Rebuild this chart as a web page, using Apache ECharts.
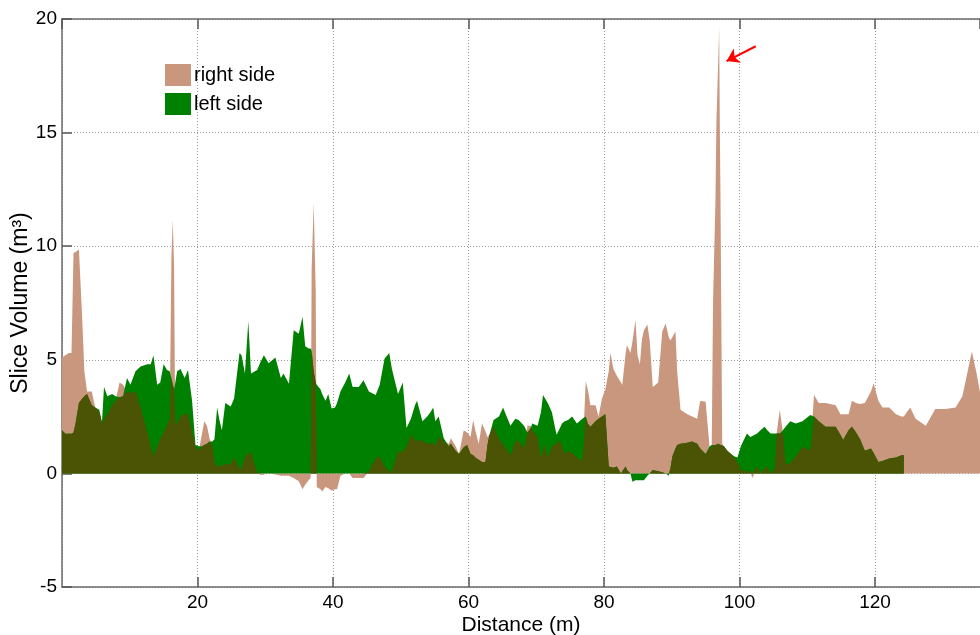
<!DOCTYPE html>
<html>
<head>
<meta charset="utf-8">
<title>Slice volume along distance</title>
<script src="https://cdn.jsdelivr.net/npm/echarts@6/dist/echarts.min.js"></script>
<style>
  html, body { margin: 0; padding: 0; background: #fff; }
  #chart { width: 980px; height: 635px; }
</style>
</head>
<body>
<div id="chart"></div>
<script>
// Distance along the section (m), shared by both sides
const distance = [
  0, 0.5, 1.0, 1.4, 1.7, 2.0, 2.5, 3.0, 3.3, 3.7,
  4.4, 4.9, 5.5, 5.9, 6.2, 6.7, 7.4, 7.9, 8.5, 9.0,
  9.6, 10.1, 10.85, 11.6, 12.6, 13.1, 13.5, 14.05, 14.5, 15.0,
  15.5, 15.9, 16.15, 16.35, 16.55, 16.7, 17.0, 17.5, 17.8, 18.1,
  18.6, 19.2, 19.7, 20.2, 20.7, 21.0, 21.4, 21.8, 22.2, 22.5,
  22.9, 23.2, 23.6, 24.1, 24.9, 25.4, 25.6, 26.2, 26.5, 27.0,
  27.5, 27.9, 28.8, 29.3, 29.8, 30.5, 31.5, 32.3, 32.7, 33.5,
  34.2, 34.95, 35.5, 35.9, 36.4, 36.7, 36.85, 37.15, 37.45, 37.6,
  38.15, 38.4, 38.9, 39.3, 39.8, 40.3, 40.6, 41.1, 41.8, 42.4,
  42.9, 43.8, 44.5, 45.3, 46.3, 46.9, 47.6, 48.3, 48.7, 49.6,
  50.3, 50.85, 51.5, 52.1, 52.4, 53.2, 53.9, 54.4, 54.8, 55.1,
  55.6, 56.35, 57.1, 57.4, 58.1, 58.6, 59.3, 59.8, 60.3, 60.7,
  61.0, 61.5, 62.0, 62.5, 62.8, 63.1, 63.7, 64.5, 65.1, 65.5,
  66.2, 66.9, 67.4, 68.2, 68.7, 69.2, 69.4, 70.2, 70.7, 71.0,
  71.2, 71.7, 72.3, 73.0, 73.5, 73.8, 74.2, 74.7, 75.3, 76.0,
  76.8, 77.3, 77.6, 78.0, 78.75, 79.2, 79.7, 80.2, 80.7, 80.95,
  81.4, 81.9, 82.5, 82.7, 83.2, 83.4, 83.9, 84.2, 84.65, 84.95,
  85.3, 85.6, 85.9, 86.4, 86.75, 87.2, 88.0, 88.6, 89.1, 89.55,
  89.8, 90.1, 90.55, 90.8, 91.3, 92.3, 93.0, 93.75, 94.2, 95.0,
  95.2, 95.6, 95.9, 96.1, 96.45, 96.6, 96.9, 97.0, 97.1, 97.2,
  97.3, 97.45, 97.7, 98.2, 99.2, 99.7, 100.2, 101.1, 101.6, 101.9,
  102.6, 103.1, 103.7, 104.1, 104.6, 105.2, 105.5, 105.95, 106.4, 106.8,
  107.5, 108.3, 109.3, 110.45, 111.0, 111.7, 112.7, 114.2, 114.9, 115.3,
  116.1, 116.6, 117.2, 117.8, 118.5, 119.4, 119.8, 120.5, 121.1, 122.1,
  123.1, 123.9, 124.25, 125.2, 126.0, 127.5, 128.9, 130.4, 131.9, 132.9,
  134.3, 135.0, 135.6
];

// Slice volume on the right side (m^3)
const rightSide = [
  5.1, 5.2, 5.3, 5.3, 9.7, 9.75, 9.85, 6.7, 4.5, 3.6,
  3.6, 2.9, 2.7, 2.2, 2.4, 2.6, 3.0, 3.2, 4.0, 3.9,
  3.6, 3.55, 3.6, 2.9, 1.8, 1.2, 0.75, 1.2, 1.5, 1.8,
  2.1, 2.4, 9.5, 11.15, 9.0, 2.2, 2.2, 2.5, 2.6, 2.6,
  2.6, 1.8, 1.2, 1.0, 1.8, 2.3, 2.1, 1.5, 1.2, 0.5,
  0.3, 0.3, 0.35, 0.4, 0.4, 0.7, 0.6, 0.2, 0.2, 0.7,
  0.9, 0.9, 0.05, -0.07, -0.05, 0.0, -0.05, -0.1, -0.1, -0.1,
  -0.2, -0.35, -0.7, -0.5, -0.3, -0.2, 9.0, 11.9, 8.0, -0.6,
  -0.7, -0.8, -0.6, -0.65, -0.75, -0.7, -0.7, -0.1, 0.0, 0.0,
  -0.2, -0.2, -0.2, 0.1, 0.65, 0.75, 0.3, 0.1, 0.1, 0.95,
  0.95, 1.2, 1.7, 1.45, 1.45, 1.45, 1.3, 1.3, 1.35, 1.2,
  1.6, 1.4, 1.3, 1.55, 1.2, 0.85, 1.9, 1.8, 1.6, 2.35,
  1.9, 1.3, 2.2, 1.85, 1.6, 1.7, 2.05, 1.5, 1.3, 1.1,
  0.8, 1.4, 1.45, 1.1, 2.1, 2.1, 1.9, 1.6, 0.7, 1.0,
  1.3, 0.7, 1.2, 1.3, 1.45, 1.2, 0.85, 1.0, 0.9, 0.7,
  0.55, 4.05, 3.7, 3.0, 3.0, 2.5, 3.3, 3.7, 4.5, 5.3,
  4.6, 4.3, 4.0, 3.9, 5.3, 5.65, 5.3, 5.8, 6.75, 5.2,
  4.8, 5.9, 6.3, 6.55, 5.85, 3.8, 4.0, 6.25, 6.6, 6.0,
  5.85, 6.0, 6.25, 4.5, 2.8, 2.6, 2.5, 2.4, 3.2, 3.15,
  3.1, 1.1, 1.15, 7.6, 12.0, 15.5, 18.5, 19.6, 15.0, 12.0,
  7.6, 1.3, 1.2, 1.0, 0.7, 0.5, 0.15, 0.1, 0.1, -0.2,
  0.3, 0.0, 0.2, 0.3, 0.0, 0.2, 1.8, 2.8, 1.8, 0.4,
  0.45, 0.74, 1.17, 1.0, 3.45, 3.1, 3.1, 3.0, 2.6, 2.6,
  2.6, 3.2, 3.1, 3.05, 3.1, 3.6, 3.96, 3.2, 2.9, 2.9,
  2.6, 2.5, 2.5, 2.9, 2.4, 2.1, 2.83, 2.83, 2.9, 3.4,
  5.36, 4.4, 3.4
];

// Slice volume on the left side (m^3); the left survey stops near 124 m
const leftSide = [
  1.9, 1.75, 1.75, 1.75, 1.8, 2.2, 3.1, 3.3, 3.4, 3.5,
  3.0, 2.9, 2.8, 2.25, 3.8, 3.4, 3.5, 3.4, 3.35, 3.4,
  4.2, 3.9, 4.5, 4.7, 4.8, 4.8, 5.2, 3.9, 4.0, 4.8,
  4.55, 4.5, 4.2, 3.9, 3.7, 3.7, 4.5, 4.6, 4.4, 4.2,
  4.55, 3.2, 1.25, 1.2, 1.2, 1.25, 1.3, 1.4, 1.4, 1.5,
  2.9, 2.4, 1.9, 3.1, 2.95, 3.3, 3.8, 5.3, 5.2, 4.4,
  6.7, 4.4, 4.55, 4.9, 5.2, 4.85, 5.1, 4.2, 4.4, 3.95,
  6.3, 6.15, 6.9, 5.6, 5.5, 5.5, 5.4, 4.5, 4.0, 3.9,
  3.7, 3.5, 3.2, 3.5, 2.86, 2.9, 3.1, 3.6, 4.0, 4.4,
  3.8, 3.8, 4.1, 3.6, 3.45, 3.9, 5.05, 5.3, 4.6, 3.5,
  4.0, 2.0, 2.4, 3.0, 3.2, 2.3, 2.5, 2.7, 2.9, 2.3,
  2.5, 1.55, 1.2, 1.3, 1.0, 0.85, 1.15, 1.25, 0.85, 0.8,
  0.7, 0.6, 0.5, 0.5, 1.25, 1.7, 2.35, 2.5, 2.9, 2.6,
  2.1, 2.4, 2.35, 2.1, 1.8, 2.0, 2.2, 2.1, 2.7, 3.45,
  3.35, 3.1, 2.7, 1.7, 2.0, 2.2, 2.3, 2.35, 2.5, 2.2,
  2.4, 2.5, 2.2, 2.05, 2.3, 2.4, 2.5, 2.6, 0.3, 0.25,
  0.25, 0.3, 0.0, 0.1, 0.3, 0.15, 0.0, -0.37, -0.3, -0.3,
  -0.3, -0.3, -0.3, -0.1, 0.0, 0.15, 0.1, 0.05, 0.0, -0.1,
  0.2, 0.75, 1.1, 1.25, 1.3, 1.35, 1.4, 1.3, 1.1, 0.85,
  0.9, 1.2, 1.25, 1.25, 1.25, 1.25, 1.3, 1.3, 1.3, 1.25,
  1.25, 1.2, 1.2, 1.0, 0.75, 0.7, 1.2, 1.76, 1.6, 1.65,
  1.76, 1.9, 2.05, 1.9, 1.76, 1.76, 1.76, 1.76, 1.9, 2.05,
  2.3, 2.2, 2.3, 2.57, 2.5, 2.3, 2.05, 2.05, 1.7, 1.47,
  1.9, 2.05, 1.8, 1.5, 1.0, 1.1, 0.9, 0.5, 0.55, 0.66,
  0.7, 0.8, 0.8, null, null, null, null, null, null, null,
  null, null, null
];

const seriesNames = ['right side', 'left side'];
const yTicks = { min: -5, max: 20, step: 5 };
const xTicks = { min: 0, max: 135.5, step: 20 };

// Arrow pointing at the highest right-side slice
const arrowFrom = [102.4, 18.8];
const arrowTo = [98.1, 18.15];

const COLOR_RIGHT = '#c9977d';
const COLOR_LEFT = '#008000';
const COLOR_BOTH = '#4b5304';

const rightData = distance.map((d, i) => [d, rightSide[i]]);
const leftData = distance
  .map((d, i) => [d, leftSide[i]])
  .filter(p => p[1] !== null);

// Part of the section covered by both sides: the smaller of the two volumes
const commonData = distance
  .map((d, i) => {
    const r = rightSide[i], l = leftSide[i];
    if (l === null) return null;
    let v = 0;
    if (r > 0 && l > 0) v = Math.min(r, l);
    else if (r < 0 && l < 0) v = Math.max(r, l);
    return [d, v];
  })
  .filter(p => p !== null);

const axisGray = '#6b6b6b';
const gridStyle = { color: '#9a9a9a', width: 1, type: [1, 2] };
const fontFamily = '"Liberation Sans", Arial, Helvetica, sans-serif';

const areaSeries = (name, data, color, extra) => Object.assign({
  name: name,
  type: 'line',
  data: data,
  symbol: 'none',
  showSymbol: false,
  smooth: false,
  lineStyle: { width: 0, opacity: 0 },
  itemStyle: { color: color },
  areaStyle: { color: color, opacity: 1 },
  emphasis: { disabled: true },
  silent: true
}, extra || {});

const chart = echarts.init(document.getElementById('chart'), null, { renderer: 'canvas' });

chart.setOption({
  animation: false,
  backgroundColor: '#ffffff',
  textStyle: { fontFamily: fontFamily },
  grid: { left: 62, right: 0, top: 19, bottom: 48, containLabel: false, outerBoundsMode: 'none' },
  legend: {
    data: seriesNames,
    orient: 'vertical',
    left: 165,
    top: 64,
    padding: 0,
    itemGap: 7,
    itemWidth: 26,
    itemHeight: 22,
    icon: 'rect',
    selectedMode: false,
    textStyle: { fontSize: 20, color: '#000', fontFamily: fontFamily, padding: [3, 0, 0, -2] }
  },
  xAxis: [
    {
      type: 'value',
      min: xTicks.min,
      max: xTicks.max,
      interval: xTicks.step,
      position: 'bottom',
      name: 'Distance (m)',
      nameLocation: 'middle',
      nameGap: 28,
      nameMoveOverlap: false,
      nameTextStyle: { fontSize: 21, color: '#000', fontFamily: fontFamily },
      axisLine: { show: true, onZero: false, lineStyle: { color: axisGray, width: 1.5 } },
      axisTick: { show: true, inside: true, length: 10, lineStyle: { color: '#555', width: 1.5 } },
      axisLabel: { color: '#000', fontSize: 19, margin: 6, showMinLabel: false, showMaxLabel: false, fontFamily: fontFamily },
      splitLine: { show: true, lineStyle: gridStyle }
    },
    {
      type: 'value',
      min: xTicks.min,
      max: xTicks.max,
      interval: xTicks.step,
      position: 'top',
      axisLine: { show: true, onZero: false, lineStyle: { color: axisGray, width: 1.5 } },
      axisTick: { show: true, inside: true, length: 10, lineStyle: { color: '#555', width: 1.5 } },
      axisLabel: { show: false },
      splitLine: { show: false }
    }
  ],
  yAxis: {
    type: 'value',
    min: yTicks.min,
    max: yTicks.max,
    interval: yTicks.step,
    name: 'Slice Volume (m³)',
    nameLocation: 'middle',
    nameRotate: 90,
    nameGap: 30,
    nameMoveOverlap: false,
    nameTextStyle: { fontSize: 23, color: '#000', fontFamily: fontFamily },
    axisLine: { show: true, onZero: false, lineStyle: { color: axisGray, width: 1.5 } },
    axisTick: { show: true, inside: true, length: 10, lineStyle: { color: '#555', width: 1.5 } },
    axisLabel: { color: '#000', fontSize: 19, margin: 5, fontFamily: fontFamily },
    splitLine: { show: true, lineStyle: gridStyle }
  },
  series: [
    areaSeries(seriesNames[0], rightData, COLOR_RIGHT, {
      z: 2,
      markLine: {
        silent: true,
        symbol: ['none', 'arrow'],
        symbolSize: 12,
        lineStyle: { color: '#ff0000', width: 2, type: 'solid' },
        label: { show: false },
        emphasis: { disabled: true },
        data: [[{ coord: arrowFrom }, { coord: arrowTo }]]
      }
    }),
    areaSeries(seriesNames[1], leftData, COLOR_LEFT, { z: 3 }),
    areaSeries('both sides', commonData, COLOR_BOTH, { z: 4 })
  ]
});
</script>
</body>
</html>
